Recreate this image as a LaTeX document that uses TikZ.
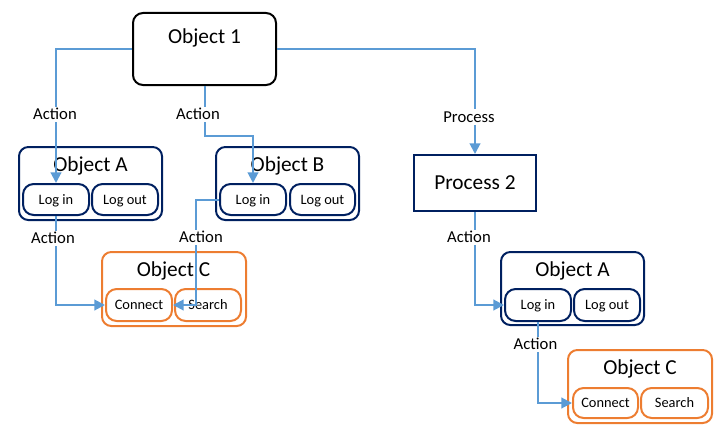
\documentclass[tikz,border=0pt]{standalone}
\usepackage{fontspec}
\setmainfont{Carlito}
\usetikzlibrary{arrows.meta}
\definecolor{navy}{HTML}{002060}
\definecolor{orng}{HTML}{ED7D31}
\definecolor{conn}{HTML}{5B9BD5}
\begin{document}
\begin{tikzpicture}[x=0.75pt,y=-0.75pt,
  sz/.style 2 args={minimum width=#1*0.75pt, minimum height=#2*0.75pt, inner sep=0pt},
  topbox/.style={draw=black, line width=1.5pt, rounded corners=7.5pt, fill=white},
  pbox/.style={draw=navy, line width=1.5pt, fill=white, font=\fontsize{16pt}{18pt}\selectfont, text height=10pt, text depth=0pt},
  navybox/.style={draw=navy, line width=1.5pt, rounded corners=7pt},
  orbox/.style={draw=orng, line width=1.5pt, rounded corners=7pt},
  subtxt/.style={font=\fontsize{10.8pt}{12pt}\selectfont, text height=6.8pt, text depth=0pt},
  navysub/.style={draw=navy, line width=1.5pt, rounded corners=8pt, subtxt},
  orsub/.style={draw=orng, line width=1.5pt, rounded corners=8pt, subtxt},
  ttl/.style={font=\fontsize{16pt}{18pt}\selectfont, inner sep=0pt, text height=10pt, text depth=0pt},
  lbl/.style={font=\fontsize{12.5pt}{14pt}\selectfont, fill=white, inner sep=2pt, text height=7.9pt, text depth=0pt},
  arr/.style={draw=conn, line width=1.5pt, -{Triangle[length=8pt,width=8pt]}}
]
\useasboundingbox (0,0) rectangle (723,435);
% boxes
\node[topbox, sz={143}{72}] (o1) at (204.5,49) {};
\node[ttl] (o1t) at (204.5,36.5) {Object 1};
\node[pbox, sz={122}{56}] (p2) at (475,183) {Process 2};

\node[navybox, sz={143}{73}] (oA) at (90.5,183.5) {};
\node[ttl] (oAt) at (90.5,165) {Object A};
\node[navysub, sz={66}{31}] (liA) at (56,199.5) {Log in};
\node[navysub, sz={66}{31}] (loA) at (125,199.5) {Log out};

\node[navybox, sz={143}{73}] (oB) at (287.5,183.5) {};
\node[ttl] (oBt) at (287.5,165) {Object B};
\node[navysub, sz={66}{31}] (liB) at (253,199.5) {Log in};
\node[navysub, sz={65}{31}] (loB) at (322.5,199.5) {Log out};

\node[orbox, sz={144}{74}] (oC) at (174,289) {};
\node[ttl] (oCt) at (173.5,270) {Object C};
\node[orsub, sz={66}{32}] (cC) at (139,305) {Connect};
\node[orsub, sz={66}{32}] (sC) at (208,305) {Search};

\node[navybox, sz={143}{73}] (oA2) at (572.5,288.5) {};
\node[ttl] (oA2t) at (572.5,270) {Object A};
\node[navysub, sz={66}{32}] (liA2) at (538,305) {Log in};
\node[navysub, sz={66}{32}] (loA2) at (607,305) {Log out};

\node[orbox, sz={144}{73}] (oC2) at (640,386.5) {};
\node[ttl] (oC2t) at (640,368) {Object C};
\node[orsub, sz={65}{30}] (cC2) at (605.5,403) {Connect};
\node[orsub, sz={67}{30}] (sC2) at (674.5,403) {Search};

% connectors
\draw[arr] (o1.west) -| (liA.north);
\draw[arr] (o1.south) -- ++(0,50) -| (liB.north);
\draw[arr] (o1.east) -| (p2.north);
\draw[arr] (liA.south) |- (cC.west);
\draw[arr] (liB.west) -- ++(-23,0) |- (cC.east);
\draw[arr] (p2.south) |- (liA2.west);
\draw[arr] (liA2.south) |- (cC2.west);

% labels
\node[lbl] (l1) at (55,114.5) {Action};
\node[lbl] (l2) at (198,114.5) {Action};
\node[lbl] (l3) at (469,117) {Process};
\node[lbl] (l4) at (53,238.5) {Action};
\node[lbl] (l5) at (201,237.5) {Action};
\node[lbl] (l6) at (469,237.5) {Action};
\node[lbl] (l7) at (535.5,344.5) {Action};
\end{tikzpicture}
\end{document}
